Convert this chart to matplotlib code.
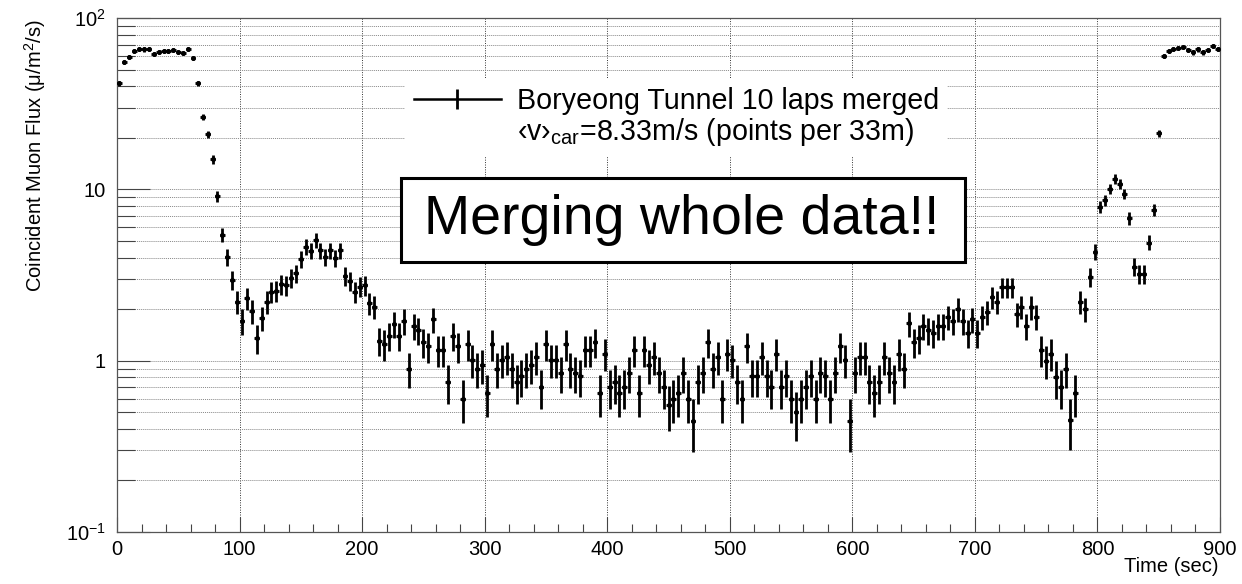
import numpy as np
import matplotlib
matplotlib.use("Agg")
import matplotlib.pyplot as plt
from matplotlib.lines import Line2D
from matplotlib.patches import Rectangle
from matplotlib.ticker import FixedLocator, FixedFormatter, NullFormatter, LogLocator, MultipleLocator

plt.rcParams['font.family'] = ['Liberation Sans', 'DejaVu Sans']
plt.rcParams['mathtext.fontset'] = 'custom'
plt.rcParams['mathtext.rm'] = 'Liberation Sans'
plt.rcParams['mathtext.it'] = 'Liberation Sans:italic'
plt.rcParams['mathtext.bf'] = 'Liberation Sans:bold'

# ---------------- data ----------------
bin_width_s = 4.0
time_s = np.arange(2, 900, bin_width_s)          # bin centres (s)
bin_half = bin_width_s / 2

flux = [
    41.6, 55.6, 59.5, 64.3, 66.3, 65.5, 66.3, 62.0, 63.4, 64.0, 64.0, 65.0, 63.7, 62.5, 66.0,
    58.7, 41.7, 26.4, 21.0, 15.0, 9.15, 5.42, 4.02, 2.96, 2.21, 1.71, 2.31, 1.95, 1.35, 1.77,
    2.21, 2.53, 2.56, 2.80, 2.77, 3.03, 3.24, 3.91, 4.63, 4.37, 5.07, 4.40, 4.02, 4.40, 3.98,
    4.40, 3.12, 2.93, 2.53, 2.70, 2.77, 2.16, 2.07, 1.31, 1.25, 1.40, 1.64, 1.40, 1.71, 0.90,
    1.60, 1.51, 1.29, 1.21, 1.75, 1.16, 1.16, 0.75, 1.40, 1.21, 0.60, 1.25, 1.01, 0.90, 0.94,
    0.65, 1.25, 0.90, 1.01, 1.05, 0.90, 0.75, 0.81, 0.90, 0.94, 1.05, 0.70, 1.25, 1.01, 1.01,
    0.85, 1.25, 0.90, 0.85, 0.81, 1.16, 1.16, 1.29, 0.65, 1.10, 0.70, 0.75, 0.65, 0.70, 0.85,
    1.16, 0.65, 1.16, 0.94, 1.05, 0.85, 0.70, 0.55, 0.60, 0.65, 0.85, 0.60, 0.445, 0.75, 0.85,
    1.29, 0.90, 1.05, 0.60, 1.10, 1.01, 0.75, 0.60, 1.21, 0.81, 0.81, 1.05, 0.81, 0.70, 1.10,
    0.70, 0.81, 0.60, 0.50, 0.60, 0.70, 0.81, 0.60, 0.85, 0.81, 0.60, 0.85, 1.21, 1.01, 0.445,
    0.85, 1.05, 1.05, 0.75, 0.65, 0.75, 1.05, 0.85, 0.75, 1.10, 0.90, 1.65, 1.29, 1.35, 1.60,
    1.51, 1.46, 1.60, 1.60, 1.79, 1.71, 2.00, 1.71, 1.46, 1.74, 1.46, 1.79, 1.92, 2.35, 2.21,
    2.68, 2.68, 2.68, 1.87, 2.07, 1.60, 2.05, 1.81, 1.16, 1.00, 1.10, 0.80, 0.70, 0.90, 0.45,
    0.65, 2.21, 2.00, 3.09, 4.33, 7.92, 8.67, 10.1, 11.5, 10.8, 9.4, 6.78, 3.54, 3.21, 3.21,
    4.89, 7.58, 21.2, 60.1, 64.5, 66.3, 66.9, 67.5, 65.0, 62.9, 65.5, 62.9, 65.0, 68.7, 66.3,
]

flux_err = [
    1.42, 1.64, 1.70, 1.76, 1.79, 1.78, 1.79, 1.73, 1.75, 1.76, 1.76, 1.77, 1.76, 1.74, 1.79,
    1.69, 1.42, 1.13, 1.01, 0.85, 0.67, 0.51, 0.44, 0.38, 0.33, 0.29, 0.33, 0.31, 0.26, 0.29,
    0.33, 0.35, 0.35, 0.37, 0.37, 0.38, 0.40, 0.44, 0.47, 0.46, 0.50, 0.46, 0.44, 0.46, 0.44,
    0.46, 0.39, 0.38, 0.35, 0.36, 0.37, 0.32, 0.32, 0.25, 0.25, 0.26, 0.28, 0.26, 0.29, 0.21,
    0.28, 0.27, 0.25, 0.24, 0.29, 0.24, 0.24, 0.19, 0.26, 0.24, 0.17, 0.25, 0.22, 0.21, 0.21,
    0.18, 0.25, 0.21, 0.22, 0.23, 0.21, 0.19, 0.20, 0.21, 0.21, 0.23, 0.18, 0.25, 0.22, 0.22,
    0.20, 0.25, 0.21, 0.20, 0.20, 0.24, 0.24, 0.25, 0.18, 0.23, 0.18, 0.19, 0.18, 0.18, 0.20,
    0.24, 0.18, 0.24, 0.21, 0.23, 0.20, 0.18, 0.16, 0.17, 0.18, 0.20, 0.17, 0.15, 0.19, 0.20,
    0.25, 0.21, 0.23, 0.17, 0.23, 0.22, 0.19, 0.17, 0.24, 0.20, 0.20, 0.23, 0.20, 0.18, 0.23,
    0.18, 0.20, 0.17, 0.16, 0.17, 0.18, 0.20, 0.17, 0.20, 0.20, 0.17, 0.20, 0.24, 0.22, 0.15,
    0.20, 0.23, 0.23, 0.19, 0.18, 0.19, 0.23, 0.20, 0.19, 0.23, 0.21, 0.28, 0.25, 0.26, 0.28,
    0.27, 0.27, 0.28, 0.28, 0.29, 0.29, 0.31, 0.29, 0.27, 0.29, 0.27, 0.29, 0.30, 0.34, 0.33,
    0.36, 0.36, 0.36, 0.30, 0.32, 0.28, 0.32, 0.30, 0.24, 0.22, 0.23, 0.20, 0.18, 0.21, 0.15,
    0.18, 0.33, 0.31, 0.39, 0.46, 0.62, 0.65, 0.70, 0.75, 0.72, 0.67, 0.57, 0.41, 0.39, 0.39,
    0.49, 0.61, 1.01, 1.71, 1.77, 1.79, 1.80, 1.81, 1.77, 1.74, 1.78, 1.74, 1.77, 1.82, 1.79,
]

x_ticks = [0, 100, 200, 300, 400, 500, 600, 700, 800, 900]
y_ticks = [0.1, 1, 10, 100]
y_tick_labels = [r'$10^{-1}$', '1', '10', r'$10^{2}$']

legend_line1 = 'Boryeong Tunnel 10 laps merged'
legend_line2 = '‹v›$_{\\mathrm{car}}$=8.33m/s (points per 33m)'
banner_text = 'Merging whole data!!'
x_label = 'Time (sec)'
y_label = r'Coincident Muon Flux (μ/m$^{2}$/s)'

# ---------------- figure ----------------
W, H = 1242, 584
fig = plt.figure(figsize=(W / 100, H / 100), dpi=100)
ax = fig.add_axes([117 / W, 52 / H, 1103 / W, 514 / H])

ax.errorbar(time_s, flux, yerr=flux_err, xerr=bin_half, fmt='o', color='black',
            ms=2.6, elinewidth=2.0, capsize=0, zorder=3)

ax.set_xlim(0, 900)
ax.set_yscale('log')
ax.set_ylim(0.1, 100)

ax.xaxis.set_major_locator(FixedLocator(x_ticks))
ax.xaxis.set_minor_locator(MultipleLocator(20))
ax.yaxis.set_major_locator(FixedLocator(y_ticks))
ax.yaxis.set_major_formatter(FixedFormatter(y_tick_labels))
ax.yaxis.set_minor_locator(LogLocator(base=10, subs=np.arange(2, 10)))
ax.yaxis.set_minor_formatter(NullFormatter())

ax.tick_params(axis='x', which='major', direction='in', length=11, width=0.8,
               labelsize=14.5, pad=6, top=False, color='#444444')
ax.tick_params(axis='x', which='minor', direction='in', length=6, width=0.8,
               top=False, color='#444444')
ax.tick_params(axis='y', which='major', direction='in', length=24, width=0.8,
               labelsize=14.5, pad=8, right=False, color='#444444')
ax.tick_params(axis='y', which='minor', direction='in', length=13, width=0.8,
               right=False, color='#444444')

for s in ax.spines.values():
    s.set_linewidth(0.9)
    s.set_color('#555555')

ax.grid(which='major', axis='x', color='#333333', linestyle=(0, (1, 1.5)), linewidth=0.7)
ax.grid(which='both', axis='y', color='#888888', linestyle=(0, (1, 1)), linewidth=0.7)
ax.set_axisbelow(True)

fig.text(35 / W, 1 - 20 / H, y_label, rotation=90, ha='center', va='top', fontsize=14.5)
fig.text(1219 / W, 1 - 566 / H, x_label, ha='right', va='center', fontsize=14.5)

# legend
proxy = Line2D([], [], color='black', lw=1.8, marker='|', markersize=15, markeredgewidth=2.0)
blank = Line2D([], [], linestyle='none')
leg = ax.legend([proxy, blank], [legend_line1, legend_line2], loc='upper left',
                bbox_to_anchor=(405 / W, 1 - 78 / H), bbox_transform=fig.transFigure,
                fontsize=20.6, frameon=True, fancybox=False, facecolor='white',
                edgecolor='none', framealpha=1, borderpad=0.3, borderaxespad=0,
                handlelength=3.04, handletextpad=0.56, labelspacing=0.05, numpoints=1)
leg.set_zorder(5)

# banner box
fig.add_artist(Rectangle((401 / W, 1 - 262 / H), 564 / W, 84 / H, transform=fig.transFigure,
                         facecolor='white', edgecolor='black', linewidth=2.2, zorder=6))
fig.text(682 / W, 1 - 220 / H, banner_text, ha='center', va='center', fontsize=40, zorder=7)

fig.savefig('out.png', dpi=100)
